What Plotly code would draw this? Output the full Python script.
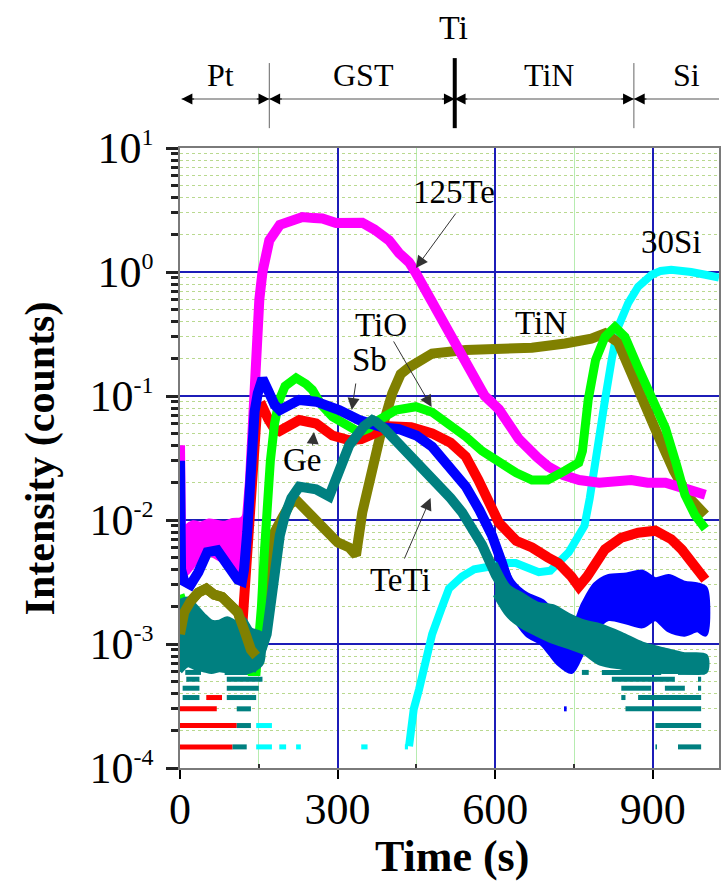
import plotly.graph_objects as go

# ---------------- SIMS depth profile: time (s) vs intensity (counts) ----------------
# 125Te (magenta)
te125_t = [0, 2, 8, 20, 35, 50, 65, 80, 95, 110, 122, 128, 133, 137, 141, 146, 151, 157, 170, 190, 208,
           233, 255, 271, 297, 320, 347, 370, 398, 417, 436, 449, 480, 510, 550, 580, 607, 645, 680,
           701, 730, 760, 798, 830, 859, 890, 924, 960, 986, 1000]
te125_i = [0.04, 0.006, 0.0065, 0.0072, 0.0075, 0.0078, 0.0074, 0.0078, 0.0076, 0.008, 0.009, 0.011,
           0.02, 0.05, 0.12, 0.3, 0.6, 1.0, 1.8, 2.4, 2.6, 2.77, 2.72, 2.7, 2.48, 2.5, 2.5, 2.2, 1.8,
           1.42, 1.2, 0.98, 0.56, 0.34, 0.17, 0.1, 0.078, 0.045, 0.032, 0.027, 0.023, 0.021, 0.02,
           0.021, 0.021, 0.02, 0.02, 0.018, 0.017, 0.016]
te125_band_t = [3, 12, 25, 40, 55, 70, 85, 100, 115, 125]
te125_band_hi = [0.0075, 0.0088, 0.0095, 0.0093, 0.0098, 0.0096, 0.0094, 0.0099, 0.0100, 0.0105]
te125_band_lo = [0.0035, 0.0037, 0.0043, 0.0053, 0.0054, 0.0050, 0.0046, 0.0043, 0.0037, 0.0045]

# Sb (blue)
sb_t = [0, 2, 8, 20, 35, 52, 71, 90, 110, 118, 122, 128, 132, 137, 142, 148, 153, 157, 168, 180, 190,
        205, 227, 259, 303, 341, 385, 417, 450, 480, 510, 544, 570, 594, 613, 626, 645, 665, 690, 715,
        740, 760, 785, 810, 840, 872, 905, 935, 965, 1000]
sb_i = [0.03, 0.004, 0.0032, 0.003, 0.0038, 0.0055, 0.0057, 0.0042, 0.0033, 0.0032, 0.004, 0.008, 0.02,
        0.045, 0.075, 0.105, 0.125, 0.138, 0.11, 0.085, 0.077, 0.083, 0.093, 0.09, 0.077, 0.064, 0.056,
        0.054, 0.048, 0.039, 0.028, 0.0186, 0.012, 0.0075, 0.0045, 0.003, 0.002, 0.0015, 0.0011,
        0.0009, 0.0008, 0.0013, 0.0022, 0.0027, 0.0028, 0.0027, 0.0025, 0.0025, 0.0023, 0.0021]
sb_band_t = [612, 632, 660, 690, 720, 745, 768, 790, 815, 850, 880, 905, 930, 960, 985, 1000]
sb_band_hi = [0.0050, 0.0032, 0.0025, 0.0022, 0.0016, 0.0013, 0.0021, 0.0030, 0.0035, 0.0036,
              0.0038, 0.0033, 0.0035, 0.0031, 0.0030, 0.0028]
sb_band_lo = [0.0030, 0.0018, 0.0012, 0.0010, 0.0007, 0.0006, 0.0009, 0.0013, 0.0016, 0.0015,
              0.0014, 0.0016, 0.0013, 0.0012, 0.0013, 0.0012]

# Ge (red)
ge_t = [105, 112, 118, 124, 130, 135, 140, 146, 152, 157, 168, 180, 189, 205, 227, 259, 290, 322, 345,
        370, 398, 440, 480, 515, 544, 568, 582, 607, 640, 670, 700, 720, 745, 759, 775, 790, 809, 840,
        872, 905, 935, 955, 973, 992, 1000]
ge_i = [0.0008, 0.0009, 0.0013, 0.003, 0.008, 0.02, 0.045, 0.07, 0.08, 0.082, 0.065, 0.054, 0.052,
        0.058, 0.064, 0.06, 0.048, 0.044, 0.045, 0.05, 0.057, 0.056, 0.05, 0.042, 0.0325, 0.021,
        0.0155, 0.0095, 0.0068, 0.006, 0.005, 0.0045, 0.0035, 0.0029, 0.0035, 0.0045, 0.0058,
        0.0072, 0.0079, 0.0082, 0.007, 0.0058, 0.0046, 0.0036, 0.0033]

# TiO (green)
tio_t = [0, 8, 20, 30, 45, 60, 75, 90, 105, 120, 135, 145, 150, 155, 160, 165, 172, 180, 189, 200,
         221, 240, 252, 262, 271, 290, 309, 341, 360, 373, 411, 449, 480, 510, 544, 575, 607, 640,
         670, 700, 733, 759, 766, 777, 791, 809, 828, 847, 872, 898, 924, 945, 961, 980, 1000]
tio_i = [0.0025, 0.002, 0.0018, 0.0013, 0.001, 0.0008, 0.0007, 0.0009, 0.0011, 0.0008, 0.0006, 0.0006,
         0.001, 0.002, 0.005, 0.012, 0.03, 0.06, 0.093, 0.12, 0.14, 0.125, 0.112, 0.095, 0.083, 0.068,
         0.06, 0.051, 0.055, 0.062, 0.077, 0.082, 0.074, 0.06, 0.047, 0.036, 0.029, 0.024, 0.021,
         0.021, 0.025, 0.029, 0.036, 0.093, 0.195, 0.3, 0.36, 0.3, 0.17, 0.1, 0.055, 0.028, 0.016,
         0.011, 0.0085]

# TiN (olive)
tin_t = [0, 8, 20, 35, 50, 65, 80, 95, 110, 125, 135, 145, 152, 160, 170, 180, 195, 210, 221, 240, 271,
         300, 322, 335, 347, 360, 373, 385, 404, 420, 436, 460, 480, 544, 607, 670, 733, 783, 809, 834,
         860, 885, 911, 940, 970, 1000]
tin_i = [0.0012, 0.0018, 0.0022, 0.0026, 0.0028, 0.0025, 0.0024, 0.0021, 0.0018, 0.0012, 0.0009,
         0.0008, 0.001, 0.0025, 0.005, 0.008, 0.0105, 0.0135, 0.0145, 0.012, 0.0085, 0.0066, 0.006,
         0.0052, 0.0115, 0.021, 0.031, 0.056, 0.105, 0.15, 0.17, 0.2, 0.22, 0.235, 0.235, 0.245,
         0.265, 0.29, 0.32, 0.27, 0.15, 0.082, 0.047, 0.025, 0.015, 0.011]

# 30Si (cyan)
si30_t = [436, 440, 445, 455, 461, 468, 480, 499, 512, 537, 560, 588, 620, 639, 660, 683, 705, 720, 740,
          759, 770, 780, 790, 800, 809, 822, 834, 853, 872, 898, 915, 935, 955, 973, 1000, 1026]
si30_i = [0.00015, 0.00022, 0.0003, 0.00043, 0.00055, 0.00075, 0.0012, 0.002, 0.0028, 0.0035, 0.004,
          0.0042, 0.0045, 0.0045, 0.0042, 0.0038, 0.0039, 0.0045, 0.0055, 0.0075, 0.009, 0.015, 0.03,
          0.05, 0.093, 0.2, 0.36, 0.56, 0.76, 0.95, 1.02, 1.04, 1.03, 1.0, 0.95, 0.9]

# TeTi (teal)
teti_t = [0, 8, 18, 30, 42, 55, 68, 80, 92, 105, 118, 130, 142, 155, 165, 172, 180, 190, 200, 212, 227,
          245, 259, 284, 298, 309, 322, 335, 350, 366, 373, 390, 404, 420, 436, 468, 493, 515, 537, 555,
          575, 601, 620, 639, 660, 683, 710, 733, 765, 797, 830, 860, 895, 924, 960, 1000]
teti_i = [0.0015, 0.001, 0.0012, 0.0016, 0.0013, 0.0009, 0.0012, 0.0009, 0.0011, 0.0008, 0.001, 0.0008,
          0.0007, 0.0009, 0.0012, 0.002, 0.004, 0.0075, 0.011, 0.015, 0.0186, 0.018, 0.0177, 0.0155,
          0.022, 0.031, 0.04, 0.047, 0.057, 0.064, 0.062, 0.054, 0.047, 0.04, 0.035, 0.024, 0.019,
          0.015, 0.0115, 0.0085, 0.0063, 0.0036, 0.0026, 0.0019, 0.0017, 0.0016, 0.0014, 0.0012,
          0.0011, 0.00095, 0.00085, 0.0008, 0.00072, 0.0007, 0.00066, 0.00062]
teti_band_t = [0, 15, 30, 45, 60, 75, 90, 105, 120, 135, 155]
teti_band_hi = [0.0022, 0.0023, 0.0020, 0.0017, 0.0015, 0.0015, 0.0016, 0.0015, 0.0016, 0.0013, 0.0012]
teti_band_lo = [0.0006, 0.00068, 0.00064, 0.00062, 0.0006, 0.00062, 0.00061, 0.00064, 0.0006,
                0.00061, 0.0007]
teti_band2_t = [600, 625, 650, 680, 710, 740, 770, 800, 840, 880, 920, 960, 1000]
teti_band2_hi = [0.0045, 0.0029, 0.0025, 0.0021, 0.0020, 0.0017, 0.0015, 0.0014, 0.0012, 0.0010,
                 0.0009, 0.00082, 0.0008]
teti_band2_lo = [0.0025, 0.0017, 0.0014, 0.0012, 0.00105, 0.00095, 0.00085, 0.0007, 0.00065,
                 0.00062, 0.0006, 0.0006, 0.0006]

# count-quantised floor readings: [t_start, t_end, level]
ge_floor = [[0, 100, 1.48e-4], [0, 108, 2.2e-4], [0, 70, 3.0e-4], [50, 80, 3.7e-4]]
teti_floor = [[100, 127, 1.48e-4], [108, 135, 2.2e-4], [108, 135, 3.0e-4], [5, 37, 3.7e-4],
              [89, 145, 3.7e-4], [5, 37, 4.4e-4], [89, 150, 4.4e-4], [12, 37, 5.2e-4],
              [89, 157, 5.2e-4], [10, 40, 5.9e-4], [85, 150, 5.9e-4],
              [905, 908, 1.48e-4], [948, 992, 1.48e-4], [905, 992, 2.2e-4], [848, 992, 3.0e-4],
              [840, 848, 3.7e-4], [872, 992, 3.7e-4], [840, 897, 4.4e-4], [923, 961, 4.4e-4],
              [986, 992, 4.4e-4], [822, 942, 5.2e-4], [986, 992, 5.2e-4], [803, 916, 5.9e-4],
              [948, 986, 5.9e-4], [765, 778, 5.9e-4]]
si30_floor = [[145, 175, 1.48e-4], [189, 202, 1.48e-4], [221, 230, 1.48e-4], [345, 357, 1.48e-4],
              [428, 434, 1.48e-4], [145, 175, 2.2e-4]]
sb_floor = [[731, 736, 3.0e-4]]

# layer boundaries along the time axis
layer_names = ["Pt", "GST", "TiN", "Si"]
layer_label_t = [78, 349, 703, 965]
layer_edges = [170, 864]
ti_edge = 523

MAGENTA, BLUE, RED, GREEN = "#FF00FF", "#0000FF", "#FF0000", "#00FF00"
OLIVE, CYAN, TEAL = "#808000", "#00FFFF", "#008080"
SERIF = "Liberation Serif"

fig = go.Figure()


def add_band(t, hi, lo, color):
    fig.add_trace(go.Scatter(x=t + t[::-1], y=hi + lo[::-1], mode="lines", fill="toself",
                             fillcolor=color, line=dict(color=color, width=5, shape="spline",
                                                        smoothing=0.8),
                             hoverinfo="skip", showlegend=False))


def add_floor(segs, color):
    xs, ys = [], []
    for a, b, v in segs:
        xs += [a, b, None]
        ys += [v, v, None]
    fig.add_trace(go.Scatter(x=xs, y=ys, mode="lines", line=dict(color=color, width=5),
                             hoverinfo="skip", showlegend=False))


def add_curve(t, i, color, width=9):
    fig.add_trace(go.Scatter(x=t, y=i, mode="lines", line=dict(color=color, width=width),
                             showlegend=False))


# floors first, then curves (draw order sets overlap)
add_floor(ge_floor, RED)
add_floor(si30_floor, CYAN)
add_floor(sb_floor, BLUE)
add_floor(teti_floor, TEAL)

add_curve(si30_t, si30_i, CYAN, 8)
add_curve(tin_t, tin_i, OLIVE, 10)
add_curve(ge_t, ge_i, RED, 10)
add_band(te125_band_t, te125_band_hi, te125_band_lo, MAGENTA)
add_curve(te125_t, te125_i, MAGENTA, 10)
add_curve(tio_t, tio_i, GREEN, 9)
add_band(sb_band_t, sb_band_hi, sb_band_lo, BLUE)
add_curve(sb_t, sb_i, BLUE, 10)
add_band(teti_band_t, teti_band_hi, teti_band_lo, TEAL)
add_band(teti_band2_t, teti_band2_hi, teti_band2_lo, TEAL)
add_curve(teti_t, teti_i, TEAL, 10)
# olive hump sits above the early teal cluster
add_curve(tin_t[:12], tin_i[:12], OLIVE, 10)

# ---------------- axes ----------------
decades = [-4, -3, -2, -1, 0, 1]
ytick_vals = [10.0 ** e for e in decades]
ytick_text = ['10<sup><span style="font-size:24px">%d</span></sup>' % e for e in decades]
yminor_vals = [k * 10.0 ** e for e in range(-4, 1) for k in range(2, 10)]

fig.update_xaxes(range=[0, 1026], tickvals=[0, 300, 600, 900], ticks="outside", ticklen=9,
                 tickwidth=1.5, tickcolor="black", showline=True, linecolor="#7a7a7a", linewidth=1.5,
                 mirror=True, showgrid=True, gridcolor="#1c1cb8", gridwidth=2, zeroline=False,
                 tickfont=dict(family=SERIF, size=44, color="black"), ticklabelstandoff=-8,
                 minor=dict(tickvals=[150, 450, 750], ticks="inside", ticklen=4, tickcolor="#333",
                            showgrid=True, gridcolor="#b6ecb0", gridwidth=1.2))
fig.update_yaxes(type="log", range=[-4, 1], tickvals=ytick_vals, ticktext=ytick_text,
                 ticks="outside", ticklen=12, tickwidth=2.5, tickcolor="#222", showline=True,
                 linecolor="#7a7a7a", linewidth=1.5, mirror=True, showgrid=True,
                 gridcolor="#1c1cb8", gridwidth=2, zeroline=False, ticklabelstandoff=4,
                 tickfont=dict(family=SERIF, size=44, color="black"),
                 minor=dict(tickvals=yminor_vals, ticks="outside", ticklen=7, tickwidth=2.5,
                            tickcolor="#222", showgrid=True, gridcolor="#b9d98f", griddash="dot",
                            gridwidth=1.2))

# ---------------- layer header above the plot ----------------
Y_ARROW, Y_LABEL, Y_TI = 1.079, 1.118, 1.194
shapes = [dict(type="line", xref="x", yref="paper", x0=3, x1=1026, y0=Y_ARROW, y1=Y_ARROW,
               line=dict(color="#555", width=1.2))]
for e in layer_edges:
    shapes.append(dict(type="line", xref="x", yref="paper", x0=e, x1=e, y0=1.032, y1=1.137,
                       line=dict(color="#666", width=1)))
shapes.append(dict(type="line", xref="x", yref="paper", x0=ti_edge, x1=ti_edge, y0=1.032, y1=1.145,
                   line=dict(color="black", width=4)))

annotations = []
for name, t in zip(layer_names, layer_label_t):
    annotations.append(dict(x=t, y=Y_LABEL, xref="x", yref="paper", text=name, showarrow=False,
                            xanchor="center", yanchor="middle",
                            font=dict(family=SERIF, size=32, color="black")))
annotations.append(dict(x=ti_edge - 2, y=Y_TI, xref="x", yref="paper", text="Ti", showarrow=False,
                        xanchor="center", yanchor="middle",
                        font=dict(family=SERIF, size=34, color="black")))

# arrowheads pointing at each boundary
heads = [(3, 14)]
for e in layer_edges + [ti_edge]:
    heads += [(e, -14), (e, 14)]
for tip, dx in heads:
    annotations.append(dict(x=tip, y=Y_ARROW, xref="x", yref="paper", ax=dx, ay=0, text="",
                            showarrow=True, arrowhead=2, arrowsize=1.8, arrowwidth=1.2,
                            arrowcolor="black", standoff=0))

# ---------------- species labels ----------------
labels = [("125Te", 521, 0.645), ("TiO", 382, -0.427), ("Sb", 360, -0.71), ("Ge", 232, -1.516),
          ("TeTi", 420, -2.484), ("TiN", 688, -0.411), ("30Si", 935, 0.242)]
for txt, x, ly in labels:
    annotations.append(dict(x=x, y=ly, xref="x", yref="y", text=txt, showarrow=False,
                            xanchor="center", yanchor="middle",
                            font=dict(family=SERIF, size=33, color="black")))

pointers = [(449, 0.032, 527, 0.484), (479, -1.089, 405, -0.548), (327, -1.113, 335, -0.887),
            (255, -1.29, 252, -1.41), (477, -1.823, 426, -2.323)]
for tx, ty, sx, sy in pointers:
    annotations.append(dict(x=tx, y=ty, xref="x", yref="y", ax=sx, ay=sy, axref="x", ayref="y",
                            text="", showarrow=True, arrowhead=2, arrowsize=2.4, arrowwidth=1,
                            arrowcolor="#333", standoff=0))

# axis titles
annotations.append(dict(x=0.505, y=-0.1435, xref="paper", yref="paper", text="<b>Time (s)</b>",
                        xanchor="center", yanchor="middle", showarrow=False,
                        font=dict(family=SERIF, size=44, color="black")))
annotations.append(dict(x=-0.259, y=0.5, xref="paper", yref="paper",
                        text="<b>Intensity (counts)</b>", textangle=-90, showarrow=False,
                        xanchor="center", yanchor="middle",
                        font=dict(family=SERIF, size=42, color="black")))

fig.update_layout(width=721, height=882, margin=dict(l=180, r=0, t=148, b=114),
                  paper_bgcolor="white", plot_bgcolor="white", shapes=shapes,
                  annotations=annotations, showlegend=False)

fig.write_html("out.html")
